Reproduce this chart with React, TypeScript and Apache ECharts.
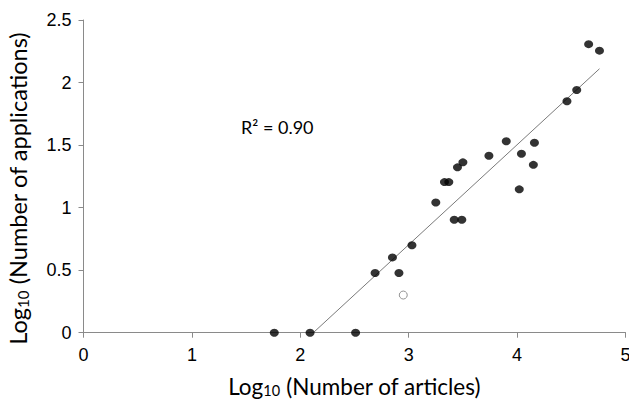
import React, { useEffect, useRef } from "react";
import * as echarts from "echarts";

// Log10 (Number of articles)
const articles = [1.76, 2.09, 2.51, 2.69, 2.85, 2.91, 3.03, 3.25, 3.33, 3.37, 3.42, 3.49, 3.45, 3.50, 3.74, 3.90, 4.04, 4.02, 4.16, 4.15, 4.46, 4.55, 4.66, 4.76];
// Log10 (Number of applications)
const applications = [0, 0, 0, 0.477, 0.602, 0.477, 0.699, 1.041, 1.204, 1.204, 0.903, 0.903, 1.322, 1.362, 1.415, 1.531, 1.431, 1.146, 1.519, 1.342, 1.851, 1.94, 2.307, 2.255];
// outlier (open circle)
const outlierX = [2.95];
const outlierY = [0.301];
// linear trend line endpoints
const trendX = [2.12, 4.76];
const trendY = [0, 2.11];
const xTicks = [0, 1, 2, 3, 4, 5];
const yTicks = [0, 0.5, 1, 1.5, 2, 2.5];
const r2Label = "R² = 0.90";

export default function App() {
  const ref = useRef<HTMLDivElement>(null);
  useEffect(() => {
    if (!ref.current) return;
    const chart = echarts.init(ref.current, undefined, { renderer: "svg" });
    const axisColor = "#8a8a8a";
    const titleFont = "Lato";
    const richX = {
      m: { fontFamily: titleFont, fontSize: 22.5, color: "#000", lineHeight: 22, verticalAlign: "middle" },
      s: { fontFamily: titleFont, fontSize: 14.5, color: "#000", lineHeight: 12, verticalAlign: "bottom" },
    };
    const richY = {
      m: { fontFamily: titleFont, fontSize: 23.5, color: "#000", lineHeight: 26, verticalAlign: "middle" },
      s: { fontFamily: titleFont, fontSize: 15, color: "#000", lineHeight: 14, verticalAlign: "bottom" },
    };
    chart.setOption({
      animation: false,
      backgroundColor: "#fff",
      grid: { left: 83.5, right: 3.5, top: 20, bottom: 68.3, containLabel: false, outerBoundsMode: "none" },
      xAxis: {
        type: "value",
        min: xTicks[0],
        max: xTicks[xTicks.length - 1],
        interval: 1,
        splitLine: { show: false },
        axisLine: { show: true, onZero: false, lineStyle: { color: axisColor, width: 1 } },
        axisTick: { show: true, inside: false, length: 5, lineStyle: { color: axisColor } },
        axisLabel: { fontFamily: "Liberation Sans", fontSize: 18, color: "#000", margin: 13 },
        name: "{m|Log}{s|10}{m| (Number of articles)}",
        nameLocation: "middle",
        nameGap: 43,
        nameTextStyle: { rich: richX },
      },
      yAxis: {
        type: "value",
        min: yTicks[0],
        max: yTicks[yTicks.length - 1],
        interval: 0.5,
        splitLine: { show: false },
        axisLine: { show: true, onZero: false, lineStyle: { color: axisColor, width: 1 } },
        axisTick: { show: true, inside: false, length: 5, lineStyle: { color: axisColor } },
        axisLabel: { fontFamily: "Liberation Sans", fontSize: 18, color: "#000", margin: 12 },
        name: "{m|Log}{s|10}{m| (Number of applications)}",
        nameLocation: "middle",
        nameRotate: 90,
        nameGap: 53,
        nameTextStyle: { rich: richY, padding: [0, 24, 0, 0] },
      },
      graphic: [
        {
          type: "text",
          left: 241,
          top: 118,
          style: { text: r2Label, fontFamily: titleFont, fontSize: 18, fill: "#000" },
        },
      ],
      series: [
        {
          type: "line",
          data: trendX.map((x, i) => [x, trendY[i]]),
          symbol: "none",
          lineStyle: { color: "#7a7a7a", width: 1 },
          silent: true,
          z: 1,
        },
        {
          type: "scatter",
          data: articles.map((x, i) => [x, applications[i]]),
          symbol: "circle",
          symbolSize: [9, 8],
          itemStyle: { color: "#000" },
          z: 3,
        },
        {
          type: "scatter",
          data: outlierX.map((x, i) => [x, outlierY[i]]),
          symbol: "circle",
          symbolSize: 8,
          itemStyle: { color: "#fff", borderColor: "#7a7a7a", borderWidth: 1 },
          z: 3,
        },
      ],
    });
    return () => chart.dispose();
  }, []);
  return (
    <div
      ref={ref}
      style={{ position: "fixed", left: 0, top: 0, width: 629, height: 401, background: "#fff" }}
    />
  );
}
